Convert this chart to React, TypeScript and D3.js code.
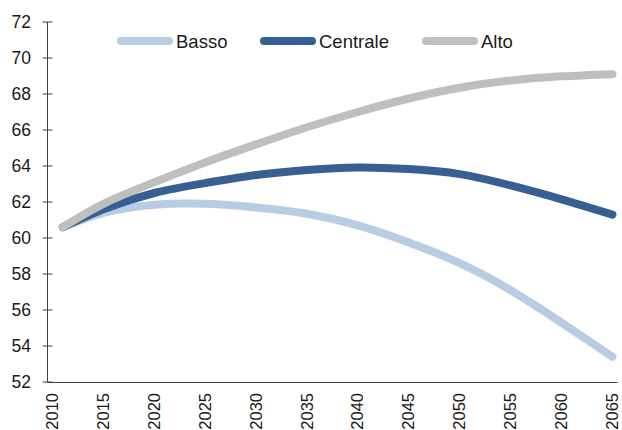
import React from 'react';
import * as d3 from 'd3';

// anni sull'asse (categorie) e valori
const categoryYears = d3.range(2010, 2066);
const tickYears = [2010, 2015, 2020, 2025, 2030, 2035, 2040, 2045, 2050, 2055, 2060, 2065];
const yTicks = [52, 54, 56, 58, 60, 62, 64, 66, 68, 70, 72];

const dataYears = [2011, 2015, 2020, 2025, 2030, 2035, 2040, 2045, 2050, 2055, 2060, 2065];
const basso = [60.6, 61.4, 61.85, 61.9, 61.7, 61.35, 60.7, 59.75, 58.6, 57.1, 55.3, 53.4];
const centrale = [60.6, 61.6, 62.5, 63.05, 63.5, 63.78, 63.92, 63.83, 63.55, 62.92, 62.15, 61.3];
const alto = [60.6, 61.9, 63.1, 64.2, 65.2, 66.15, 67.0, 67.75, 68.35, 68.75, 68.98, 69.1];

const seriesNames = ['Basso', 'Centrale', 'Alto'];
const seriesValues = [basso, centrale, alto];
const seriesColors = ['#b8cce4', '#366092', '#bfbfbf'];

const W = 622;
const H = 430;
const font = '"Liberation Sans Narrow", "Arial Narrow", "Liberation Sans", Arial, sans-serif';

export default function App() {
  const left = 47.5;
  const right = 617.5;
  const top = 22;
  const bottom = 382;

  const xBand = d3
    .scaleBand<number>()
    .domain(categoryYears)
    .range([left, right])
    .padding(0);
  const xc = (year: number) => (xBand(year) as number) + xBand.bandwidth() / 2;

  const y = d3.scaleLinear().domain([52, 72]).range([bottom, top]);

  const line = d3
    .line<[number, number]>()
    .x((d) => xc(d[0]))
    .y((d) => y(d[1]))
    .curve(d3.curveNatural);

  // legenda
  const legendX = [121, 264, 426];
  const legendLen = 48;
  const legendY = 41;

  return (
    <svg
      width={W}
      height={H}
      style={{ position: 'absolute', left: 0, top: 0, display: 'block', background: '#fff' }}
      fontFamily={font}
    >
      {/* asse y */}
      <line x1={left} x2={left} y1={top} y2={bottom} stroke="#404040" strokeWidth={1} />
      {yTicks.map((t) => (
        <g key={t}>
          <line x1={left - 5} x2={left + 5} y1={y(t)} y2={y(t)} stroke="#404040" strokeWidth={1} />
          <text x={31} y={y(t)} dy="0.36em" textAnchor="end" fontSize={17.5} fill="#1a1a1a">
            {t}
          </text>
        </g>
      ))}

      {/* asse x */}
      <line x1={left} x2={right} y1={bottom + 0.5} y2={bottom + 0.5} stroke="#404040" strokeWidth={1} />
      {tickYears.map((yr) => (
        <text
          key={yr}
          transform={`translate(${xc(yr) + 5.5},${bottom + 11}) rotate(-90)`}
          textAnchor="end"
          fontSize={16.5}
          fill="#1a1a1a"
        >
          {yr}
        </text>
      ))}

      {/* serie */}
      {seriesValues.map((vals, i) => (
        <path
          key={seriesNames[i]}
          d={line(dataYears.map((yr, j) => [yr, vals[j]] as [number, number])) || ''}
          fill="none"
          stroke={seriesColors[i]}
          strokeWidth={8}
          strokeLinecap="round"
          strokeLinejoin="round"
        />
      ))}

      {/* legenda */}
      {seriesNames.map((name, i) => (
        <g key={name}>
          <line
            x1={legendX[i]}
            x2={legendX[i] + legendLen}
            y1={legendY}
            y2={legendY}
            stroke={seriesColors[i]}
            strokeWidth={8}
            strokeLinecap="round"
          />
          <text x={legendX[i] + legendLen + 7} y={legendY} dy="0.36em" fontSize={18.5} fill="#1a1a1a">
            {name}
          </text>
        </g>
      ))}
    </svg>
  );
}
